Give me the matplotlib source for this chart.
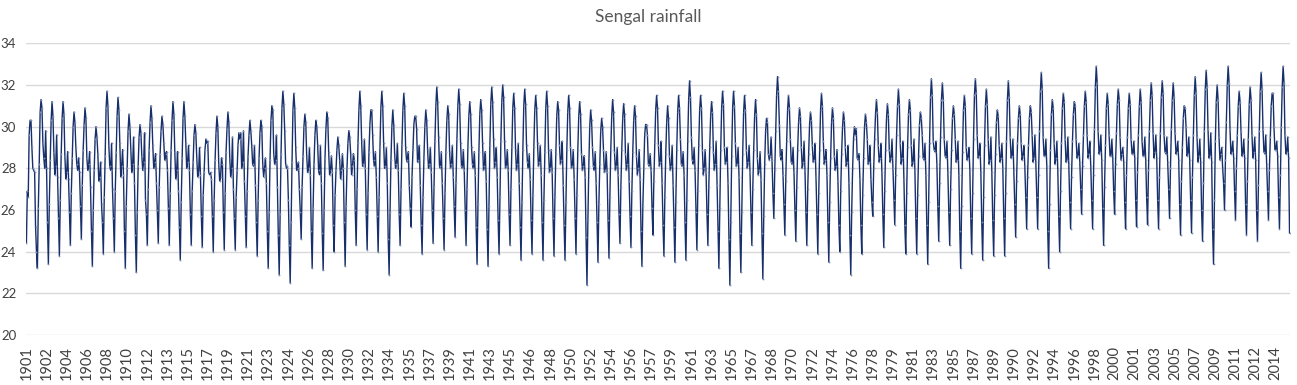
import matplotlib
matplotlib.use("Agg")
import matplotlib.pyplot as plt
import numpy as np

plt.rcParams['font.family'] = ['Lato', 'DejaVu Sans']

first_year = 1901
last_year = 2015

# monthly values, one list per calendar month (1901..2015)
jan = [24.4, 23.2, 23.4, 23.8, 24.3, 24.6, 23.3, 23.9, 24.0, 23.2,
       23.0, 24.3, 24.4, 24.3, 23.6, 24.3, 24.2, 24.0, 24.1, 24.1,
       24.2, 23.8, 23.2, 22.9, 22.5, 24.6, 23.2, 23.1, 24.0, 23.3,
       24.3, 24.1, 24.0, 22.9, 24.3, 25.2, 23.9, 24.4, 24.1, 24.7,
       24.3, 23.4, 23.3, 23.9, 24.3, 23.6, 23.9, 23.6, 23.8, 23.6,
       23.9, 22.4, 23.5, 23.7, 24.4, 24.2, 23.3, 24.8, 23.8, 23.5,
       23.6, 24.1, 24.3, 23.2, 22.4, 23.0, 24.3, 22.7, 25.6, 24.8,
       24.5, 24.3, 23.9, 23.5, 24.0, 22.9, 23.9, 25.7, 24.2, 25.3,
       23.9, 23.9, 23.4, 24.5, 24.3, 23.2, 23.9, 23.6, 23.8, 23.8,
       24.7, 25.1, 25.1, 23.2, 24.0, 25.1, 25.8, 25.1, 24.3, 25.8,
       25.1, 25.2, 25.3, 25.1, 25.6, 24.8, 24.9, 24.5, 23.4, 26.0,
       25.5, 24.8, 24.5, 25.5, 25.1]
feb = [26.9, 26.1, 26.3, 26.5, 26.8, 27.2, 26.0, 26.6, 26.9, 26.2,
       25.9, 27.0, 27.1, 26.8, 26.4, 26.9, 26.7, 26.5, 26.8, 26.6,
       26.9, 26.5, 25.9, 25.8, 25.4, 27.1, 26.1, 26.0, 26.7, 26.2,
       27.0, 26.8, 26.6, 25.9, 27.0, 27.6, 26.6, 27.1, 26.8, 27.3,
       27.0, 26.3, 26.2, 26.6, 27.0, 26.4, 26.7, 26.5, 26.6, 26.4,
       26.7, 25.5, 26.3, 26.6, 27.1, 26.9, 26.2, 27.4, 26.6, 26.4,
       26.5, 26.9, 27.1, 26.1, 25.4, 25.9, 27.0, 25.7, 27.9, 27.4,
       27.1, 27.0, 26.8, 26.4, 26.9, 25.9, 26.7, 28.0, 26.9, 27.7,
       26.8, 26.7, 26.4, 27.3, 27.0, 26.2, 26.8, 26.6, 26.7, 26.8,
       27.4, 27.6, 27.7, 26.3, 26.9, 27.6, 28.1, 27.7, 27.1, 28.2,
       27.7, 27.8, 27.9, 27.6, 28.0, 27.4, 27.6, 27.3, 26.5, 28.4,
       28.0, 27.4, 27.2, 27.9, 27.7]
mar = [26.6, 28.2, 28.4, 28.7, 28.5, 28.9, 27.9, 28.6, 28.8, 28.0,
       28.1, 28.9, 28.7, 28.9, 28.5, 28.3, 27.8, 28.4, 28.8, 27.9,
       28.6, 28.5, 28.4, 28.7, 28.3, 28.6, 28.2, 28.5, 27.9, 28.0,
       29.2, 28.8, 29.0, 28.4, 29.1, 28.9, 28.5, 29.3, 28.8, 29.4,
       29.0, 28.8, 29.1, 29.3, 29.0, 28.9, 29.0, 28.8, 28.7, 28.9,
       28.9, 28.1, 28.2, 28.9, 28.9, 28.8, 28.0, 29.2, 28.7, 28.9,
       29.3, 29.1, 29.0, 28.9, 28.6, 28.7, 28.9, 28.2, 29.8, 29.3,
       28.9, 28.7, 28.9, 28.5, 28.7, 28.0, 28.5, 29.4, 28.9, 29.6,
       29.0, 28.6, 29.2, 29.5, 28.9, 28.8, 29.4, 29.1, 28.7, 29.3,
       29.2, 29.1, 29.8, 28.9, 29.2, 29.3, 29.6, 29.9, 29.1, 29.7,
       29.5, 29.6, 29.8, 29.7, 29.9, 29.0, 29.6, 29.8, 29.3, 30.2,
       29.6, 29.4, 29.8, 29.5, 30.0]
apr = [29.6, 30.7, 30.3, 30.4, 30.0, 30.1, 29.4, 30.9, 30.5, 29.8,
       29.5, 30.2, 29.8, 30.3, 30.4, 29.6, 28.9, 29.7, 29.9, 29.1,
       29.6, 29.7, 30.3, 30.9, 30.8, 30.0, 29.6, 29.9, 28.9, 29.2,
       30.8, 30.1, 30.9, 30.0, 30.8, 30.1, 30.0, 31.0, 30.3, 31.0,
       30.5, 30.6, 31.1, 31.2, 30.9, 31.0, 30.8, 30.9, 30.5, 30.7,
       30.5, 30.0, 29.8, 30.5, 30.4, 30.3, 29.6, 30.8, 30.2, 30.7,
       31.3, 30.8, 30.5, 30.9, 30.9, 30.7, 30.5, 29.8, 31.5, 30.8,
       30.2, 30.1, 30.8, 30.2, 30.0, 29.4, 30.0, 30.6, 30.4, 31.0,
       30.6, 30.1, 31.4, 31.3, 30.4, 30.8, 31.5, 31.0, 30.2, 31.3,
       30.4, 30.4, 31.7, 30.6, 30.9, 30.6, 31.0, 31.9, 30.9, 31.1,
       30.9, 31.0, 31.3, 31.4, 31.3, 30.4, 31.5, 31.8, 31.2, 32.0,
       31.0, 31.1, 31.7, 31.0, 31.9]
may = [30.3, 31.3, 31.2, 31.2, 30.7, 30.9, 30.0, 31.7, 31.4, 30.6,
       30.1, 31.0, 30.5, 31.2, 31.2, 30.1, 29.4, 30.5, 30.7, 29.7,
       30.3, 30.3, 31.0, 31.7, 31.6, 30.6, 30.3, 30.7, 29.5, 29.8,
       31.7, 30.8, 31.7, 30.8, 31.6, 30.5, 30.8, 31.9, 31.0, 31.8,
       31.2, 31.3, 31.9, 32.0, 31.6, 31.8, 31.5, 31.7, 31.2, 31.5,
       31.2, 30.8, 30.4, 31.3, 31.1, 31.0, 30.1, 31.5, 31.0, 31.5,
       32.2, 31.5, 31.2, 31.7, 31.7, 31.5, 31.3, 30.4, 32.4, 31.5,
       30.9, 30.7, 31.6, 30.9, 30.7, 30.0, 30.6, 31.3, 31.1, 31.8,
       31.3, 30.7, 32.3, 32.1, 31.0, 31.5, 32.3, 31.8, 30.8, 32.2,
       31.0, 31.0, 32.6, 31.3, 31.6, 31.2, 31.7, 32.9, 31.6, 31.8,
       31.6, 31.8, 32.1, 32.2, 32.1, 31.0, 32.4, 32.7, 32.0, 32.9,
       31.7, 31.9, 32.6, 31.6, 32.9]
jun = [30.3, 30.9, 30.5, 30.6, 30.2, 30.4, 29.5, 31.0, 30.8, 30.0,
       29.7, 30.4, 30.1, 30.6, 30.5, 29.7, 29.2, 30.0, 30.2, 29.4,
       29.8, 30.0, 30.8, 31.1, 30.9, 30.2, 30.0, 30.4, 29.1, 29.5,
       31.0, 30.8, 31.0, 30.1, 31.0, 30.5, 30.3, 31.2, 30.6, 31.1,
       30.6, 30.8, 31.2, 31.4, 30.9, 31.1, 30.9, 31.0, 30.8, 30.9,
       30.6, 30.3, 30.0, 30.7, 30.6, 30.5, 30.1, 30.9, 30.4, 30.9,
       31.4, 30.9, 30.7, 31.1, 31.0, 30.8, 30.6, 30.2, 31.7, 30.9,
       30.5, 30.3, 31.0, 30.4, 30.3, 29.6, 30.2, 30.7, 30.6, 31.1,
       30.8, 30.4, 31.5, 31.3, 30.6, 31.0, 31.6, 31.1, 30.5, 31.4,
       30.6, 30.7, 31.8, 30.9, 31.2, 31.0, 31.2, 32.1, 31.1, 31.3,
       31.1, 31.2, 31.5, 31.6, 31.4, 30.9, 31.6, 31.9, 31.3, 32.1,
       31.2, 31.3, 31.8, 31.6, 32.1]
jul = [29.0, 29.2, 28.8, 28.6, 29.0, 28.5, 28.7, 29.1, 29.2, 28.9,
       28.6, 29.1, 29.2, 28.8, 29.2, 28.5, 29.3, 28.2, 28.5, 29.7,
       29.1, 28.2, 28.7, 29.8, 29.0, 28.6, 29.1, 28.8, 28.4, 28.7,
       29.3, 29.6, 29.2, 28.7, 29.0, 29.9, 28.9, 29.5, 28.8, 29.2,
       29.0, 29.2, 29.4, 29.3, 28.9, 29.1, 29.2, 28.9, 29.1, 29.0,
       28.7, 29.0, 28.9, 28.8, 28.7, 28.6, 29.6, 29.1, 28.6, 29.4,
       29.5, 28.9, 28.8, 29.0, 29.2, 28.9, 28.5, 28.7, 30.1, 29.4,
       29.0, 29.1, 29.3, 28.6, 29.0, 29.9, 29.4, 29.1, 28.9, 29.2,
       29.1, 29.6, 29.3, 29.4, 29.4, 29.0, 29.6, 29.4, 29.1, 29.5,
       29.2, 29.6, 29.5, 29.2, 29.4, 29.4, 29.6, 29.8, 29.6, 29.5,
       29.4, 29.3, 29.7, 29.6, 29.7, 30.0, 29.5, 29.9, 29.5, 29.9,
       29.8, 29.6, 29.9, 30.0, 29.6]
aug = [28.0, 28.5, 27.7, 27.5, 28.2, 27.9, 27.4, 28.1, 27.6, 27.8,
       27.9, 28.0, 28.4, 27.5, 28.0, 27.6, 27.8, 27.4, 27.6, 28.0,
       28.2, 27.6, 28.2, 28.2, 27.9, 27.8, 27.9, 27.7, 27.5, 27.7,
       28.1, 28.4, 28.0, 28.0, 28.4, 28.3, 28.0, 28.1, 28.0, 28.1,
       28.2, 27.9, 28.0, 28.0, 27.9, 28.3, 28.1, 27.8, 28.2, 28.0,
       27.9, 28.1, 27.8, 27.9, 27.9, 27.7, 28.2, 28.1, 27.9, 28.2,
       28.4, 27.7, 27.9, 28.2, 28.1, 28.0, 27.7, 28.4, 28.6, 28.3,
       28.0, 28.3, 28.2, 27.9, 28.1, 28.5, 28.2, 28.3, 28.3, 28.2,
       28.1, 28.5, 28.9, 28.6, 28.3, 28.4, 28.5, 28.2, 28.3, 28.5,
       28.4, 28.3, 28.6, 28.2, 28.3, 28.5, 28.5, 28.7, 28.6, 28.4,
       28.7, 28.6, 28.5, 28.8, 28.7, 28.6, 28.3, 28.5, 28.4, 28.7,
       28.6, 28.5, 28.8, 28.9, 28.7]
sep = [27.9, 28.0, 28.1, 27.8, 27.9, 28.2, 27.6, 27.9, 28.1, 28.2,
       28.3, 28.3, 28.7, 27.9, 28.3, 27.8, 27.7, 27.6, 28.0, 28.3,
       28.1, 28.0, 28.4, 28.0, 28.0, 28.0, 27.7, 27.9, 27.9, 28.1,
       28.2, 28.1, 28.1, 28.2, 28.3, 28.4, 28.2, 28.0, 28.2, 28.0,
       28.0, 28.1, 28.3, 28.1, 28.2, 28.0, 28.3, 28.0, 28.4, 28.1,
       28.1, 27.9, 27.9, 28.1, 28.2, 28.0, 28.1, 28.3, 28.1, 28.1,
       28.2, 28.0, 28.2, 28.3, 28.2, 28.3, 27.9, 28.6, 28.4, 28.2,
       28.3, 28.4, 28.4, 28.1, 28.3, 28.4, 28.3, 28.5, 28.5, 28.5,
       28.3, 28.4, 28.8, 28.5, 28.4, 28.5, 28.6, 28.4, 28.5, 28.6,
       28.6, 28.5, 28.6, 28.5, 28.4, 28.6, 28.7, 28.8, 28.6, 28.7,
       28.7, 28.6, 28.8, 28.7, 28.8, 28.7, 28.6, 28.6, 28.7, 28.8,
       28.7, 28.8, 28.7, 28.9, 28.8]
oct = [27.8, 29.8, 29.6, 28.8, 28.5, 28.8, 28.3, 29.2, 28.9, 29.5,
       29.7, 28.7, 28.8, 28.8, 29.1, 29.0, 27.8, 28.5, 29.5, 29.8,
       29.1, 28.5, 29.6, 28.1, 28.3, 29.0, 29.1, 28.6, 28.7, 28.7,
       29.4, 28.8, 29.0, 29.2, 28.8, 29.1, 29.0, 28.8, 29.1, 28.9,
       28.8, 28.8, 29.0, 28.9, 29.2, 28.7, 29.1, 28.9, 29.3, 28.9,
       28.6, 28.8, 28.8, 29.0, 29.2, 28.9, 28.7, 29.3, 29.1, 28.8,
       29.0, 28.9, 29.3, 29.0, 29.0, 29.1, 28.8, 29.5, 28.9, 29.0,
       29.3, 29.2, 28.9, 28.9, 29.1, 28.7, 29.1, 29.2, 29.4, 29.3,
       29.4, 29.2, 29.3, 29.3, 29.3, 29.0, 29.2, 29.5, 29.2, 29.4,
       29.1, 29.6, 29.4, 29.3, 29.5, 29.2, 29.3, 29.6, 29.4, 29.0,
       29.3, 29.5, 29.6, 29.5, 29.3, 29.5, 29.4, 29.7, 29.0, 29.3,
       29.4, 29.5, 29.6, 29.3, 29.5]
nov = [25.2, 28.0, 27.6, 27.5, 27.8, 27.1, 26.3, 27.0, 27.7, 27.3,
       26.5, 27.3, 27.9, 26.9, 27.9, 27.7, 27.5, 28.2, 27.0, 27.4,
       27.2, 27.3, 27.1, 26.5, 27.0, 27.7, 27.3, 27.8, 28.0, 28.4,
       28.0, 27.6, 27.3, 27.9, 27.2, 27.2, 27.8, 27.3, 27.6, 27.9,
       27.7, 27.4, 27.6, 27.9, 27.3, 27.5, 27.7, 27.8, 27.2, 27.5,
       27.6, 27.3, 27.8, 27.7, 27.4, 27.5, 27.9, 27.3, 27.2, 27.7,
       27.9, 27.8, 27.2, 27.3, 27.6, 27.8, 27.5, 28.4, 27.7, 27.8,
       27.9, 27.6, 27.7, 27.4, 27.3, 27.5, 27.5, 27.8, 28.0, 27.5,
       27.9, 27.7, 28.2, 27.8, 27.7, 27.9, 27.8, 27.8, 28.0, 27.9,
       28.1, 28.3, 28.1, 27.9, 28.2, 28.3, 28.1, 28.4, 28.5, 28.3,
       28.5, 28.4, 28.5, 28.3, 28.4, 28.4, 28.3, 28.3, 28.0, 28.5,
       28.5, 28.4, 28.2, 28.6, 28.5]
dec = [24.0, 25.4, 25.6, 25.9, 26.2, 25.0, 25.4, 25.6, 25.0, 24.8,
       25.8, 26.0, 26.1, 25.2, 25.8, 25.7, 25.7, 25.9, 25.6, 25.7,
       25.4, 25.0, 24.8, 24.3, 25.9, 25.0, 24.9, 25.3, 25.4, 26.0,
       25.8, 25.7, 24.6, 25.8, 26.1, 25.3, 26.0, 25.6, 26.2, 26.0,
       25.2, 25.1, 25.5, 25.8, 25.2, 25.5, 25.4, 25.6, 25.3, 25.6,
       24.7, 25.4, 25.5, 25.8, 25.7, 25.0, 26.1, 25.3, 25.2, 25.4,
       25.9, 25.8, 25.0, 24.6, 24.9, 25.9, 24.9, 26.8, 26.3, 26.0,
       25.9, 25.8, 25.4, 25.3, 24.8, 25.3, 26.4, 25.8, 26.5, 25.3,
       25.6, 25.3, 26.2, 25.9, 25.0, 25.6, 25.4, 25.5, 25.6, 26.3,
       26.6, 26.6, 25.0, 25.7, 26.4, 27.0, 26.5, 26.1, 26.9, 26.4,
       26.5, 26.6, 26.5, 27.0, 26.3, 26.5, 26.0, 25.1, 27.3, 26.9,
       26.3, 26.0, 26.9, 26.6, 24.9]

months = [jan, feb, mar, apr, may, jun, jul, aug, sep, oct, nov, dec]
values = np.column_stack(months).ravel()
years = np.repeat(np.arange(first_year, last_year + 1), 12)
idx = np.arange(len(values))

fig = plt.figure(figsize=(12.97, 3.85), dpi=100)
ax = fig.add_axes([0.0200, 0.1299, 0.9746, 0.7576])

ax.plot(idx, values, color='#172f6b', lw=1.0, marker='o', ms=1.3,
        mfc='#8090b4', mec='none', zorder=3)

ax.set_xlim(-0.5, len(values) - 0.5)
ax.set_ylim(20, 34)
ax.set_yticks(np.arange(20, 35, 2))
ax.grid(axis='y', color='#d9d9d9', lw=1.0)
ax.set_axisbelow(True)
for s in ax.spines.values():
    s.set_visible(False)

step = 22
ticks = idx[::step]
ax.set_xticks(ticks)
ax.set_xticklabels([str(y) for y in years[::step]], rotation=90)
ax.tick_params(axis='x', length=0, pad=8, labelsize=10.5, labelcolor='#404040')
ax.tick_params(axis='y', length=0, pad=7, labelsize=9.5, labelcolor='#404040')

fig.text(0.5, 0.955, 'Sengal rainfall', ha='center', va='center',
         fontsize=12.5, color='#595959')

fig.savefig('out.png', dpi=100)
